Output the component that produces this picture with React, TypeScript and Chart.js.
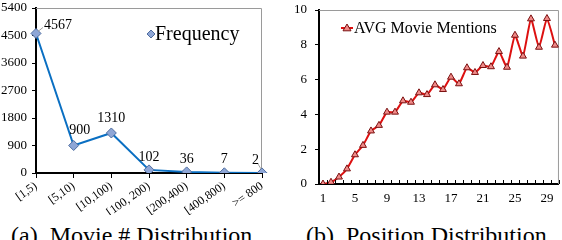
import React, { useEffect, useRef } from "react";
import { Chart, registerables } from "chart.js";

Chart.register(...registerables);

const FONT = "'Liberation Serif', 'Times New Roman', serif";

// Left chart: movie count distribution
const freqCategories = ["[1,5)", "[5,10)", "[10,100)", "[100, 200)", "[200,400)", "[400,800)", ">= 800"];
const freqValues = [4567, 900, 1310, 102, 36, 7, 2];
const freqTicks = [0, 900, 1800, 2700, 3600, 4500, 5400];

// Right chart: position distribution
const positionLabels = Array.from({ length: 30 }, (_, i) => String(i + 1));
const mentionValues = [
  0, 0.1, 0.4, 0.87, 1.68, 2.22, 3.05, 3.37, 4.13, 4.13,
  4.78, 4.7, 5.24, 5.14, 5.7, 5.43, 6.14, 5.76, 6.68, 6.41,
  6.81, 6.74, 7.61, 6.71, 8.55, 7.35, 9.49, 7.86, 9.51, 7.98,
];
const mentionTicks = [0, 2, 4, 6, 8, 10];

const frameBorder = {
  id: "frameBorder",
  beforeDatasetsDraw(chart: any) {
    const { ctx, chartArea: a } = chart;
    ctx.save();
    ctx.strokeStyle = "#9a9a9a";
    ctx.lineWidth = 1;
    ctx.beginPath();
    ctx.moveTo(a.left, a.top + 0.5);
    ctx.lineTo(a.right - 0.5, a.top + 0.5);
    ctx.lineTo(a.right - 0.5, a.bottom);
    ctx.stroke();
    ctx.restore();
  },
};

const innerTicks = {
  id: "innerTicks",
  afterDatasetsDraw(chart: any, _args: any, opts: any) {
    if (!opts || !opts.enabled) return;
    const { ctx, chartArea: a } = chart;
    const xs = chart.scales.x;
    const n = chart.data.labels.length;
    const step = xs.getPixelForValue(1) - xs.getPixelForValue(0);
    ctx.save();
    ctx.strokeStyle = "#000";
    ctx.lineWidth = 1;
    ctx.beginPath();
    for (let i = 0; i <= n; i++) {
      const x = Math.round(xs.getPixelForValue(i) - step / 2) + 0.5;
      ctx.moveTo(x, a.bottom);
      ctx.lineTo(x, a.bottom - 4);
    }
    ctx.stroke();
    ctx.restore();
  },
};

const innerLegend = {
  id: "innerLegend",
  afterDraw(chart: any, _args: any, opts: any) {
    if (!opts || !opts.text) return;
    const { ctx } = chart;
    const ds = chart.data.datasets[0];
    ctx.save();
    ctx.strokeStyle = ds.borderColor;
    ctx.lineWidth = 2;
    ctx.beginPath();
    ctx.moveTo(opts.x - opts.lineHalf, opts.y);
    ctx.lineTo(opts.x + opts.lineHalf, opts.y);
    ctx.stroke();
    ctx.fillStyle = ds.pointBackgroundColor;
    ctx.strokeStyle = ds.pointBorderColor;
    ctx.lineWidth = 1;
    const r = opts.r;
    ctx.beginPath();
    if (opts.shape === "triangle") {
      ctx.moveTo(opts.x, opts.y - r);
      ctx.lineTo(opts.x + r, opts.y + r * 0.7);
      ctx.lineTo(opts.x - r, opts.y + r * 0.7);
    } else {
      ctx.moveTo(opts.x, opts.y - r);
      ctx.lineTo(opts.x + r, opts.y);
      ctx.lineTo(opts.x, opts.y + r);
      ctx.lineTo(opts.x - r, opts.y);
    }
    ctx.closePath();
    ctx.fill();
    ctx.stroke();
    ctx.fillStyle = "#000";
    ctx.font = `${opts.size}px ${FONT}`;
    ctx.textAlign = "left";
    ctx.textBaseline = "middle";
    ctx.fillText(opts.text, opts.x + opts.lineHalf + 1, opts.y + 1);
    ctx.restore();
  },
};

const valueLabels = {
  id: "valueLabels",
  afterDatasetsDraw(chart: any, _args: any, opts: any) {
    if (!opts || !opts.enabled) return;
    const { ctx } = chart;
    const meta = chart.getDatasetMeta(0);
    const data = chart.data.datasets[0].data;
    ctx.save();
    ctx.font = `14px ${FONT}`;
    ctx.fillStyle = "#000";
    ctx.textBaseline = "middle";
    meta.data.forEach((pt: any, i: number) => {
      const v = String(data[i]);
      const off = opts.offsets[i] || [0, -14];
      const lx = pt.x + off[0];
      const ly = pt.y + off[1];
      if (opts.leaders[i]) {
        ctx.strokeStyle = "#a0a0a0";
        ctx.lineWidth = 1;
        ctx.beginPath();
        ctx.moveTo(pt.x + opts.leaders[i][0], pt.y + opts.leaders[i][1]);
        ctx.lineTo(pt.x + opts.leaders[i][2], pt.y + opts.leaders[i][3]);
        ctx.stroke();
      }
      ctx.textAlign = opts.aligns[i] || "center";
      ctx.fillText(v, lx, ly);
    });
    ctx.restore();
  },
};

const noVPad = (w: number) => (s: any) => {
  s.width = w;
  s.paddingTop = 0;
  s.paddingBottom = 0;
};

function LeftChart() {
  const ref = useRef<HTMLCanvasElement>(null);
  useEffect(() => {
    const chart = new Chart(ref.current!, {
      type: "line",
      data: {
        labels: freqCategories,
        datasets: [
          {
            data: freqValues,
            borderColor: "#0a6fc2",
            borderWidth: 2,
            pointStyle: "rectRot",
            pointRadius: 5,
            pointBackgroundColor: "#8ea6d6",
            pointBorderColor: "#4f6d9f",
            pointBorderWidth: 1,
            tension: 0,
          } as any,
        ],
      },
      options: {
        animation: false,
        responsive: false,
        layout: { autoPadding: false, padding: { top: 8, right: 19, left: 0, bottom: 0 } },
        plugins: {
          legend: { display: false },
          tooltip: { enabled: false },
          innerLegend: { text: "Frequency", x: 151, y: 34, r: 4, lineHalf: 3, size: 20, shape: "diamond" },
          valueLabels: {
            enabled: true,
            offsets: [[8, -8], [6, -15], [0, -15], [0, -13], [0, -13], [0, -13], [-3, -13]],
            aligns: ["left", "center", "center", "center", "center", "center", "right"],
            leaders: [[2, -2, 7, -6], null, null, null, null, null, [-1, -4, -4, -9]],
          },
        } as any,
        scales: {
          x: {
            offset: false,
            afterFit: (s: any) => { s.height = 42; },
            grid: { drawOnChartArea: false, tickLength: 5, color: "#000" },
            border: { color: "#000", width: 2 },
            ticks: { minRotation: 35, maxRotation: 35, autoSkip: false, color: "#000", padding: 1, font: { family: FONT, size: 12 } },
          },
          y: {
            min: 0,
            max: 5400,
            afterFit: noVPad(36),
            afterBuildTicks: (s: any) => { s.ticks = freqTicks.map((v) => ({ value: v })); },
            grid: { drawOnChartArea: false, tickLength: 4, color: "#000" },
            border: { color: "#000", width: 2 },
            ticks: { color: "#000", padding: 5, font: { family: FONT, size: 13 }, callback: (v: any) => String(v) },
          },
        },
      },
      plugins: [frameBorder, innerLegend, valueLabels],
    });
    return () => chart.destroy();
  }, []);
  return <canvas ref={ref} width={281} height={215} style={{ position: "absolute", left: 0, top: 0, width: 281, height: 215 }} />;
}

function RightChart() {
  const ref = useRef<HTMLCanvasElement>(null);
  useEffect(() => {
    const chart = new Chart(ref.current!, {
      type: "line",
      data: {
        labels: positionLabels,
        datasets: [
          {
            data: mentionValues,
            borderColor: "#dd1010",
            borderWidth: 2,
            pointStyle: "triangle",
            pointRadius: 4,
            pointBackgroundColor: "#f08a88",
            pointBorderColor: "#7a1010",
            pointBorderWidth: 1,
            tension: 0.15,
          } as any,
        ],
      },
      options: {
        animation: false,
        responsive: false,
        layout: { autoPadding: false, padding: { top: 10, right: 2, left: 0, bottom: 0 } },
        plugins: {
          legend: { display: false },
          tooltip: { enabled: false },
          innerLegend: { text: "AVG Movie Mentions", x: 66, y: 28, r: 4, lineHalf: 6, size: 16, shape: "triangle" },
          valueLabels: { enabled: false },
          innerTicks: { enabled: true },
        } as any,
        scales: {
          x: {
            offset: true,
            afterFit: (s: any) => { s.height = 31; },
            grid: { drawOnChartArea: false, drawTicks: false },
            border: { color: "#000", width: 2 },
            ticks: {
              autoSkip: false,
              maxRotation: 0,
              color: "#000",
              padding: 7,
              font: { family: FONT, size: 13 },
              callback: (_v: any, i: number) => (i % 4 === 0 ? positionLabels[i] : ""),
            },
          },
          y: {
            min: 0,
            max: 10,
            afterFit: noVPad(38),
            afterBuildTicks: (s: any) => { s.ticks = mentionTicks.map((v) => ({ value: v })); },
            grid: { drawOnChartArea: false, tickLength: 4, color: "#000" },
            border: { color: "#000", width: 2 },
            ticks: { color: "#000", padding: 8, font: { family: FONT, size: 13 } },
          },
        },
      },
      plugins: [frameBorder, innerTicks, innerLegend],
    });
    return () => chart.destroy();
  }, []);
  return <canvas ref={ref} width={281} height={215} style={{ position: "absolute", left: 281, top: 0, width: 281, height: 215 }} />;
}

export default function App() {
  const cap: React.CSSProperties = {
    position: "absolute",
    top: 220,
    fontFamily: FONT,
    fontSize: 24,
    color: "#000",
    whiteSpace: "pre",
    lineHeight: "30px",
  };
  return (
    <div style={{ position: "absolute", left: 0, top: 0, width: 562, height: 240, overflow: "hidden", background: "#fff" }}>
      <LeftChart />
      <RightChart />
      <div style={{ ...cap, left: 11 }}>(a)  Movie # Distribution</div>
      <div style={{ ...cap, left: 306 }}>(b)  Position Distribution</div>
    </div>
  );
}
